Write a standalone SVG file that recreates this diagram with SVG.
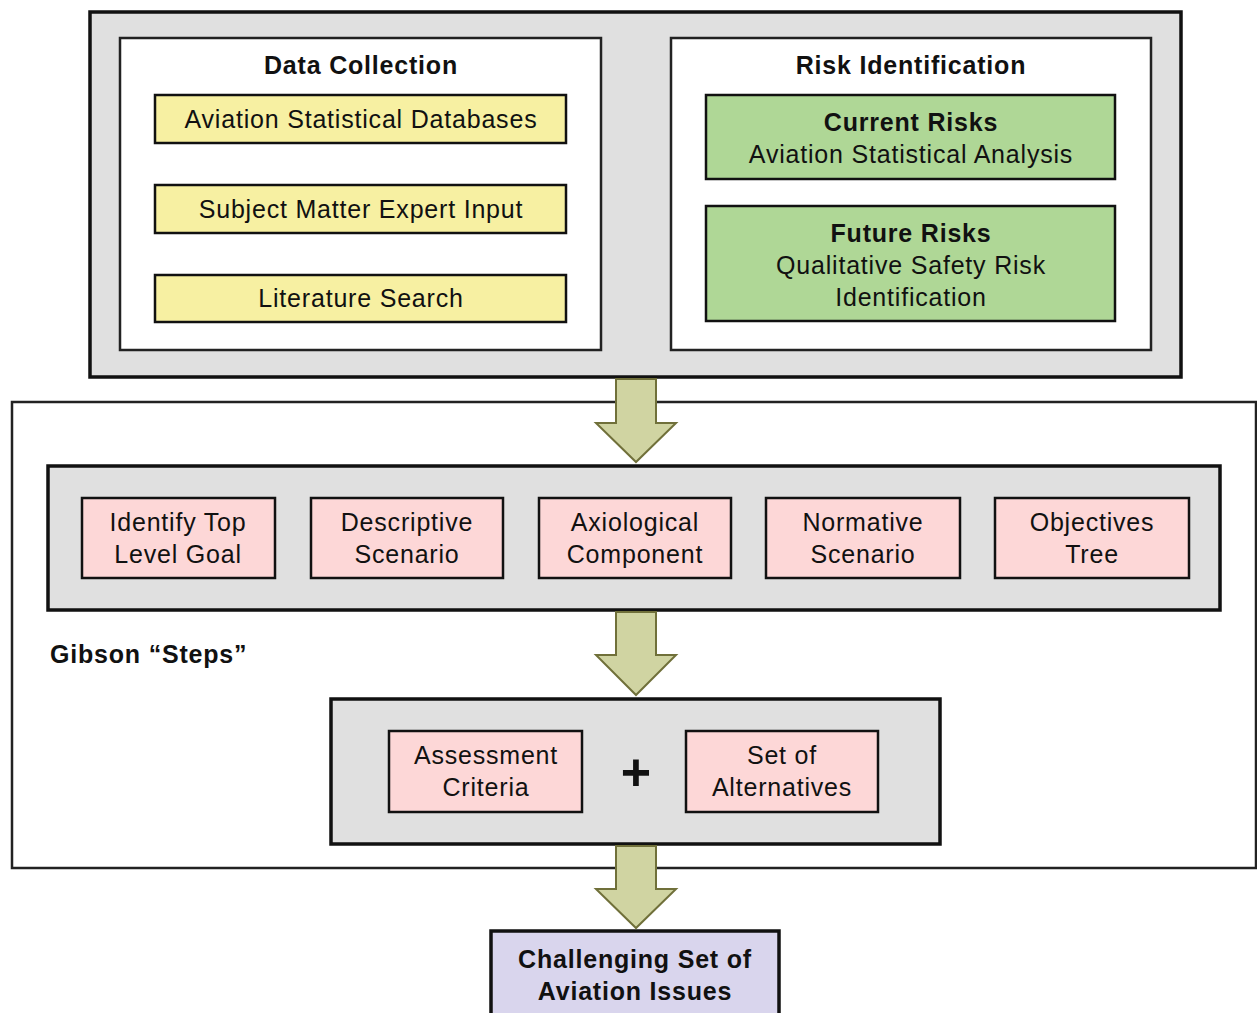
<svg xmlns="http://www.w3.org/2000/svg" width="1257" height="1013" viewBox="0 0 1257 1013">
<style>
text{font-family:"Liberation Sans",Arial,sans-serif;fill:#111;text-anchor:middle;letter-spacing:0.8px}
.t{font-size:25px}
.b{font-size:25px;font-weight:bold}
.gray{fill:#e0e0e0;stroke:#111;stroke-width:3.5}
.white{fill:#fff;stroke:#222;stroke-width:2.5}
.yel{fill:#f7f0a2;stroke:#111;stroke-width:2.5}
.grn{fill:#afd796;stroke:#111;stroke-width:2.5}
.pink{fill:#fdd7d7;stroke:#111;stroke-width:2.5}
.lav{fill:#d9d5ed;stroke:#111;stroke-width:3.5}
.arr{fill:#d0d4a2;stroke:#70703a;stroke-width:2;stroke-linejoin:miter}
</style>
<rect x="0" y="0" width="1257" height="1013" fill="#fff"/>
<g id="top-panel">
<rect class="gray" x="90" y="12" width="1091" height="365"/>
</g>
<g id="data-collection">
<rect class="white" x="120" y="38" width="481" height="312"/>
<text class="b" x="361" y="74">Data Collection</text>
</g>
<g id="aviation-statistical-databases">
<rect class="yel" x="155" y="95" width="411" height="48"/>
<text class="t" x="361" y="128">Aviation Statistical Databases</text>
</g>
<g id="subject-matter-expert-input">
<rect class="yel" x="155" y="185" width="411" height="48"/>
<text class="t" x="361" y="218">Subject Matter Expert Input</text>
</g>
<g id="literature-search">
<rect class="yel" x="155" y="275" width="411" height="47"/>
<text class="t" x="361" y="307">Literature Search</text>
</g>
<g id="risk-identification">
<rect class="white" x="671" y="38" width="480" height="312"/>
<text class="b" x="911" y="74">Risk Identification</text>
</g>
<g id="current-risks">
<rect class="grn" x="706" y="95" width="409" height="84"/>
<text class="b" x="911" y="131">Current Risks</text>
<text class="t" x="911" y="163">Aviation Statistical Analysis</text>
</g>
<g id="future-risks">
<rect class="grn" x="706" y="206" width="409" height="115"/>
<text class="b" x="911" y="242">Future Risks</text>
<text class="t" x="911" y="274">Qualitative Safety Risk</text>
<text class="t" x="911" y="306">Identification</text>
</g>
<g id="gibson-steps">
<rect x="12" y="402" width="1244" height="466" fill="#fff" stroke="#222" stroke-width="2.5"/>
<text class="b" x="50" y="663" style="text-anchor:start">Gibson “Steps”</text>
</g>
<g id="steps-panel">
<rect class="gray" x="48" y="466" width="1172" height="144"/>
</g>
<g id="identify-top-level-goal">
<rect class="pink" x="82" y="498" width="193" height="80"/>
<text class="t" x="178" y="531">Identify Top</text>
<text class="t" x="178" y="563">Level Goal</text>
</g>
<g id="descriptive-scenario">
<rect class="pink" x="311" y="498" width="192" height="80"/>
<text class="t" x="407" y="531">Descriptive</text>
<text class="t" x="407" y="563">Scenario</text>
</g>
<g id="axiological-component">
<rect class="pink" x="539" y="498" width="192" height="80"/>
<text class="t" x="635" y="531">Axiological</text>
<text class="t" x="635" y="563">Component</text>
</g>
<g id="normative-scenario">
<rect class="pink" x="766" y="498" width="194" height="80"/>
<text class="t" x="863" y="531">Normative</text>
<text class="t" x="863" y="563">Scenario</text>
</g>
<g id="objectives-tree">
<rect class="pink" x="995" y="498" width="194" height="80"/>
<text class="t" x="1092" y="531">Objectives</text>
<text class="t" x="1092" y="563">Tree</text>
</g>
<g id="evaluation-panel">
<rect class="gray" x="331" y="699" width="609" height="145"/>
<text x="636" y="790" style="font-size:52px;font-weight:bold;letter-spacing:0">+</text>
</g>
<g id="assessment-criteria">
<rect class="pink" x="389" y="731" width="193" height="81"/>
<text class="t" x="486" y="764">Assessment</text>
<text class="t" x="486" y="796">Criteria</text>
</g>
<g id="set-of-alternatives">
<rect class="pink" x="686" y="731" width="192" height="81"/>
<text class="t" x="782" y="764">Set of</text>
<text class="t" x="782" y="796">Alternatives</text>
</g>
<g id="challenging-set">
<rect class="lav" x="491" y="931" width="288" height="90"/>
<text class="b" x="635" y="968">Challenging Set of</text>
<text class="b" x="635" y="1000">Aviation Issues</text>
</g>
<g id="connectors">
<polygon class="arr" points="616,379 656,379 656,423 676,423 636,462 596,423 616,423"/>
<polygon class="arr" points="616,612 656,612 656,655 676,655 636,695 596,655 616,655"/>
<polygon class="arr" points="616,846 656,846 656,889 676,889 636,928 596,889 616,889"/>
</g>
</svg>
